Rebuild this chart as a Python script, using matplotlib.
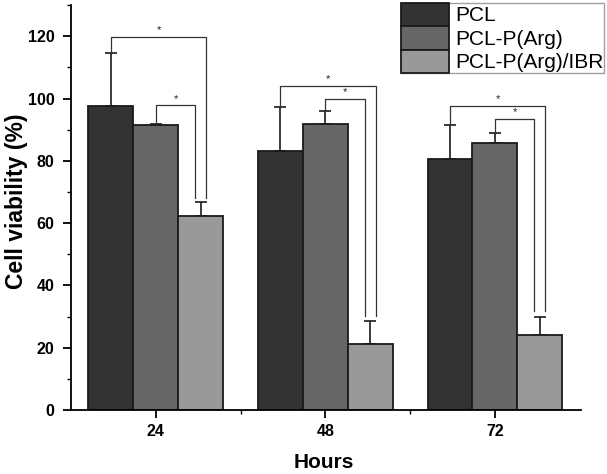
import matplotlib
matplotlib.use("Agg")
import matplotlib.pyplot as plt
import numpy as np
from matplotlib.ticker import MultipleLocator, FixedLocator

plt.rcParams['font.family'] = ['Liberation Sans', 'DejaVu Sans']

hours = ["24", "48", "72"]
series = ["PCL", "PCL-P(Arg)", "PCL-P(Arg)/IBR"]
means = {
    "PCL": [97.7, 83.2, 80.5],
    "PCL-P(Arg)": [91.5, 91.9, 85.8],
    "PCL-P(Arg)/IBR": [62.4, 21.1, 24.2],
}
errs = {
    "PCL": [16.8, 14.2, 10.9],
    "PCL-P(Arg)": [0.3, 4.2, 3.3],
    "PCL-P(Arg)/IBR": [4.3, 7.5, 5.8],
}
colors = ["#333333", "#666666", "#999999"]

# significance brackets: (group, from series, to series, bar height y, drop-to y)
brackets = [
    (0, 0, 2, 119.7, 68.2),
    (0, 1, 2, 97.8, 68.2),
    (1, 0, 2, 104.0, 30.2),
    (1, 1, 2, 99.8, 30.2),
    (2, 0, 2, 97.6, 31.8),
    (2, 1, 2, 93.5, 31.8),
]

fig = plt.figure(figsize=(6.07, 4.74), dpi=100)
ax = fig.add_axes([0.117, 0.135, 0.840, 0.854])

x = np.arange(1, len(hours) + 1)
w = 0.265
offsets = [-w, 0, w]
handles = []
for i, s in enumerate(series):
    b = ax.bar(x + offsets[i], means[s], width=w, color=colors[i],
               edgecolor="#1a1a1a", linewidth=1.3, label=s, zorder=2)
    handles.append(b)
    ax.errorbar(x + offsets[i], means[s], yerr=[np.zeros(3), errs[s]],
                fmt="none", ecolor="#1a1a1a", elinewidth=1.2, capsize=4,
                capthick=1.2, zorder=1)

for g, a, bb, yh, yd in brackets:
    xa = x[g] + offsets[a]
    ya = means[series[a]][g] + errs[series[a]][g]
    side = -0.032 if a == 1 else 0.032
    xb = x[g] + offsets[bb] + side
    ax.plot([xa, xa, xb, xb], [ya, yh, yh, yd], color="#333333", lw=0.9, zorder=3)
    ax.text((xa + xb) / 2, yh + 0.6, "*", ha="center", va="bottom", fontsize=8,
            color="#222222")

ax.set_xlim(0.5, 3.507)
ax.set_ylim(0, 130)
ax.set_xticks(x)
ax.set_xticklabels(hours)
ax.xaxis.set_minor_locator(FixedLocator([1.5, 2.5]))
ax.set_yticks(np.arange(0, 121, 20))
ax.yaxis.set_minor_locator(MultipleLocator(10))
for sp in ["top", "right"]:
    ax.spines[sp].set_visible(False)
for sp in ["left", "bottom"]:
    ax.spines[sp].set_linewidth(1.3)
ax.tick_params(axis="both", which="major", direction="out", length=6, width=1.3,
               labelsize=11.5)
ax.tick_params(axis="both", which="minor", direction="out", length=3, width=1.0)
ax.tick_params(axis="y", which="major", pad=6)
ax.tick_params(axis="x", which="major", pad=4)
for lbl in ax.get_xticklabels() + ax.get_yticklabels():
    lbl.set_fontweight("bold")

ax.set_xlabel("Hours", fontsize=15, fontweight="bold")
ax.xaxis.set_label_coords(0.496, -0.105)
ax.set_ylabel("Cell viability (%)", fontsize=16.5, fontweight="bold")
ax.yaxis.set_label_coords(-0.085, 0.515)

leg = fig.legend(handles=handles, labels=series, loc="upper right",
                 bbox_to_anchor=(0.995, 0.994), fontsize=15, frameon=True,
                 fancybox=False, edgecolor="#888888", handlelength=2.3,
                 handleheight=1.35, labelspacing=0.0, handletextpad=0.3,
                 borderpad=0.0, borderaxespad=0.0)
leg.get_frame().set_linewidth(1.0)

fig.savefig("out.png", dpi=100)
